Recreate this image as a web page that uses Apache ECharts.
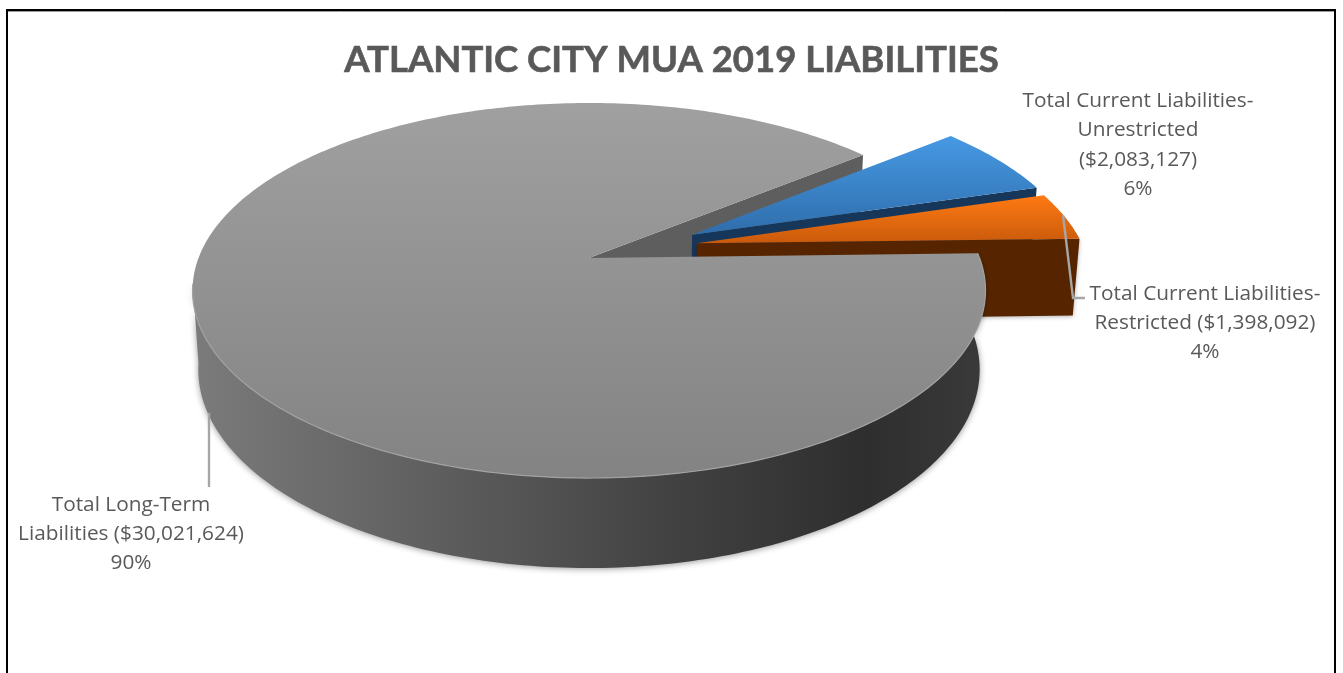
<!DOCTYPE html>
<html>
<head>
<meta charset="utf-8">
<style>html,body{margin:0;padding:0;background:#fff}#chart{width:1343px;height:673px}</style>
<script src="https://cdn.jsdelivr.net/npm/echarts@6/dist/echarts.min.js"></script>
</head>
<body>
<div id="chart"></div>
<script>
// Liabilities shown in the pie
const chartTitle = 'ATLANTIC CITY MUA 2019 LIABILITIES';
const sliceNames = ['Total Long-Term\nLiabilities', 'Total Current Liabilities-\nUnrestricted', 'Total Current Liabilities-\nRestricted'];
const sliceValues = [30021624, 2083127, 1398092];
const nameValueJoin = [' ', '\n', ' '];

// Perspective of the tilted disc: top face and bottom face
const topFace = { x0: 589, y0: 258, a: 390.5, b: 181.9, k: 0.1733 };
const bottomFace = { x0: 589, y0: 336, a: 385, b: 192.6, k: 0.17 };
const startAngle = -1.5;
const frontWallEnd = 172;
// Pulled-out slices, offset in disc units
const explode = [[0, 0], [0.27, -0.13], [0.28, -0.082]];
const labelPos = [[131, 534], [1138, 145], [1205, 323]];
const leaders = [
  [[209, 413], [209, 487]],
  null,
  [[1063, 215], [1073, 298], [1085, 298]]
];

const total = sliceValues.reduce((s, v) => s + v, 0);
const rad = d => d * Math.PI / 180;

function project(face, X, Y) {
  const s = 1 / (1 - face.k * Y);
  return [face.x0 + face.a * X * s, face.y0 + face.b * Y * s];
}
function rim(face, off, from, to) {
  const pts = [];
  const n = Math.max(2, Math.ceil(Math.abs(to - from)));
  for (let i = 0; i <= n; i++) {
    const t = rad(from + (to - from) * i / n);
    pts.push(project(face, off[0] + Math.cos(t), off[1] + Math.sin(t)));
  }
  return pts;
}
function linear(horizontal, stops) {
  return {
    type: 'linear', x: 0, y: 0, x2: horizontal ? 1 : 0, y2: horizontal ? 0 : 1,
    colorStops: stops.map(c => ({ offset: c[0], color: c[1] }))
  };
}
function wallAlongEdge(off, angle, style, z2) {
  const t = rad(angle);
  const ex = off[0] + Math.cos(t), ey = off[1] + Math.sin(t);
  return {
    type: 'polygon', z2,
    shape: { points: [project(topFace, off[0], off[1]), project(topFace, ex, ey), project(bottomFace, ex, ey), project(bottomFace, off[0], off[1])] },
    style
  };
}
function faceWedge(off, from, to, fill, z2) {
  return {
    type: 'polygon', z2,
    shape: { points: [project(topFace, off[0], off[1])].concat(rim(topFace, off, from, to)) },
    style: { fill }
  };
}
function labelText(i) {
  const pct = Math.round(sliceValues[i] / total * 100);
  const money = '($' + sliceValues[i].toLocaleString('en-US') + ')';
  return sliceNames[i] + nameValueJoin[i] + money + '\n' + pct + '%';
}

function renderSlice(params, api) {
  const i = params.dataIndex;
  const sweep = api.value(0) / total * 360;
  let from = startAngle;
  for (let j = 0; j < i; j++) from += sliceValues[j] / total * 360;
  const to = from + sweep;
  const off = explode[i];
  const children = [];

  if (i === 0) {
    // Front wall under the rim, then the cut wall seen through the gap
    const frontTop = rim(topFace, off, from, frontWallEnd);
    const frontBottom = rim(bottomFace, off, from, frontWallEnd).reverse();
    children.push({
      type: 'polygon', z2: 7,
      shape: { points: frontTop.concat(frontBottom) },
      style: {
        fill: linear(true, [[0, '#7b7b7b'], [0.3, '#5f5f5f'], [0.6, '#424242'], [0.85, '#2e2e2e'], [1, '#3a3a3a']]),
        shadowBlur: 6, shadowColor: 'rgba(0,0,0,0.4)', shadowOffsetY: 1
      }
    });
    children.push(wallAlongEdge(off, to, { fill: '#5e5e5e' }, 1));
    children.push(faceWedge(off, from, to, linear(false, [[0, '#a0a0a0'], [1, '#838383']]), 8));
    children.push({
      type: 'polyline', z2: 9,
      shape: { points: rim(topFace, off, from, frontWallEnd) },
      style: { fill: null, stroke: '#a2a2a2', lineWidth: 1.2 }
    });
  } else if (i === 1) {
    children.push(wallAlongEdge(off, to, { fill: '#17375a' }, 2));
    children.push(faceWedge(off, from, to, linear(false, [[0, '#4699e4'], [1, '#2f6dab']]), 3));
  } else {
    children.push(wallAlongEdge(off, to, { fill: '#562500', shadowBlur: 4, shadowColor: 'rgba(0,0,0,0.3)', shadowOffsetY: 1 }, 4));
    children.push(faceWedge(off, from, to, linear(false, [[0, '#ff7a13'], [1, '#c95a0b']]), 5));
  }

  if (leaders[i]) {
    children.push({
      type: 'polyline', z2: 10,
      shape: { points: leaders[i] },
      style: { fill: null, stroke: '#a6a6a6', lineWidth: 2.4 }
    });
  }
  children.push({
    type: 'text', z2: 11,
    style: {
      text: labelText(i), x: labelPos[i][0], y: labelPos[i][1],
      align: 'center', verticalAlign: 'middle',
      fill: '#595959', font: '20.8px "Open Sans"', lineHeight: 29.3
    }
  });
  return { type: 'group', children };
}

const chart = echarts.init(document.getElementById('chart'), null, { renderer: 'canvas' });
chart.setOption({
  animation: false,
  backgroundColor: '#ffffff',
  title: {
    text: chartTitle, left: 'center', top: 37,
    textStyle: { color: '#595959', fontFamily: 'Lato', fontWeight: 'bold', fontSize: 36.5, textBorderColor: '#595959', textBorderWidth: 0.6 }
  },
  graphic: [
    { type: 'polyline', silent: true, shape: { points: [[7, 673], [7, 10], [1335, 10], [1335, 673]] }, style: { fill: null, stroke: '#000', lineWidth: 2 } },
    { type: 'line', silent: true, shape: { x1: 8, y1: 11.5, x2: 1334, y2: 11.5 }, style: { stroke: '#9a9a9a', lineWidth: 1 } }
  ],
  series: [{
    type: 'custom',
    coordinateSystem: 'none',
    renderItem: renderSlice,
    data: sliceValues.map((v, i) => ({ name: sliceNames[i], value: [v] }))
  }]
});
</script>
</body>
</html>
